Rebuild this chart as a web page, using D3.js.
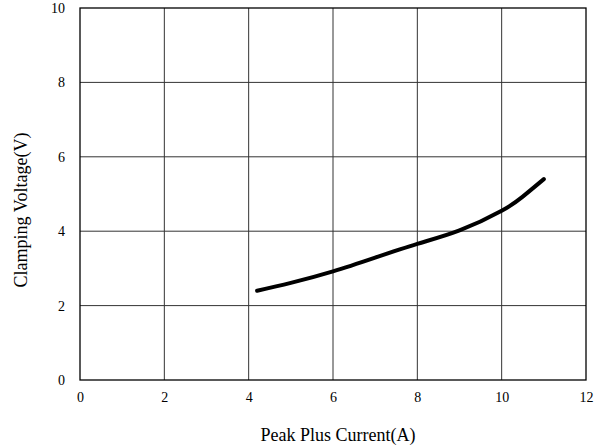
<!DOCTYPE html>
<html>
<head>
<meta charset="utf-8">
<script src="https://cdn.jsdelivr.net/npm/d3@7"></script>
<style>
  body { margin: 0; background: #fff; }
  text { font-family: "Liberation Serif", "Times New Roman", serif; fill: #000; }
</style>
</head>
<body>
<svg class="chart" width="600" height="447"></svg>
<script>
// curve
var current = [4.2, 5, 6, 7, 8, 9, 10, 10.5, 11];
var voltage = [2.4, 2.61, 2.92, 3.29, 3.66, 4.02, 4.55, 4.93, 5.4];
var xTicks = [0, 2, 4, 6, 8, 10, 12];
var yTicks = [0, 2, 4, 6, 8, 10];

var svg = d3.select(".chart"),
    margin = { top: 8, right: 14, bottom: 67, left: 80 },
    width = +svg.attr("width") - margin.left - margin.right,
    height = +svg.attr("height") - margin.top - margin.bottom;

var x = d3.scaleLinear().domain([0, 12]).range([0, width]),
    y = d3.scaleLinear().domain([0, 10]).range([height, 0]);

var g = svg.append("g")
  .attr("transform", "translate(" + margin.left + "," + margin.top + ")");

// grid
g.selectAll(".vgrid")
  .data(xTicks.slice(1, -1))
  .enter().append("line")
  .attr("x1", function(d) { return x(d); })
  .attr("x2", function(d) { return x(d); })
  .attr("y1", 0).attr("y2", height)
  .attr("stroke", "#333").attr("stroke-width", 1);

g.selectAll(".hgrid")
  .data(yTicks.slice(1, -1))
  .enter().append("line")
  .attr("y1", function(d) { return y(d); })
  .attr("y2", function(d) { return y(d); })
  .attr("x1", 0).attr("x2", width)
  .attr("stroke", "#333").attr("stroke-width", 1);

// axes, no tick marks
var xAxis = g.append("g")
  .attr("transform", "translate(0," + height + ")")
  .call(d3.axisBottom(x).tickValues(xTicks).tickSize(0).tickPadding(12));
var yAxis = g.append("g")
  .call(d3.axisLeft(y).tickValues(yTicks).tickSize(0).tickPadding(15));

[xAxis, yAxis].forEach(function(a) {
  a.attr("font-family", "'Liberation Serif', 'Times New Roman', serif")
   .attr("font-size", 14);
  a.select(".domain").remove();
  a.selectAll("text").attr("fill", "#000");
});

// frame
g.append("rect")
  .attr("width", width).attr("height", height)
  .attr("fill", "none").attr("stroke", "#000").attr("stroke-width", 1.3);

// curve
var line = d3.line()
  .x(function(d, i) { return x(current[i]); })
  .y(function(d) { return y(d); })
  .curve(d3.curveNatural);

g.append("path")
  .datum(voltage)
  .attr("d", line)
  .attr("fill", "none")
  .attr("stroke", "#000")
  .attr("stroke-width", 4)
  .attr("stroke-linecap", "round");

// titles
svg.append("text")
  .attr("x", 338)
  .attr("y", 441)
  .attr("text-anchor", "middle")
  .style("font-size", "18px")
  .text("Peak Plus Current(A)");

svg.append("text")
  .attr("transform", "translate(27,210) rotate(-90)")
  .attr("text-anchor", "middle")
  .style("font-size", "18px")
  .text("Clamping Voltage(V)");
</script>
</body>
</html>
